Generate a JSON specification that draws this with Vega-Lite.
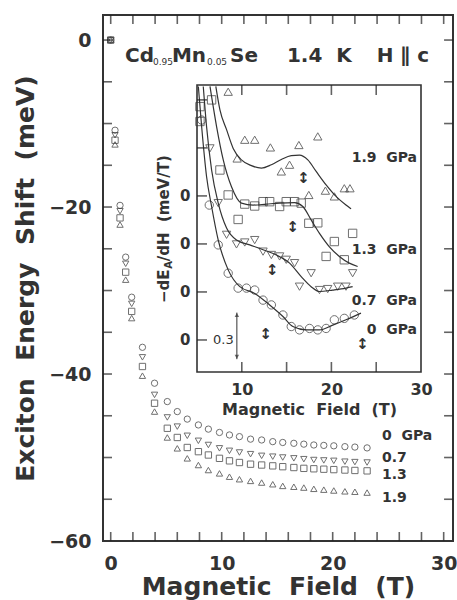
{
  "$schema": "https://vega.github.io/schema/vega-lite/v6.json",
  "width": 350,
  "height": 526,
  "autosize": {"type": "none"},
  "padding": {"left": 103, "top": 15, "right": 4, "bottom": 59},
  "background": "white",
  "config": {
    "view": {"stroke": "#333", "strokeWidth": 2},
    "axis": {"labelFont": "DejaVu Sans", "labelFontWeight": "bold", "labelColor": "#333", "titleFont": "DejaVu Sans", "titleFontWeight": "bold", "titleColor": "#333", "ticks": false, "domain": false, "grid": false, "labelFlush": false, "labelOverlap": false},
    "text": {"font": "DejaVu Sans", "fontWeight": "bold", "fill": "#333"}
  },
  "data": {"values": [{}]},
  "datasets": {
    "xt": [{"v": 0}, {"v": 2}, {"v": 4}, {"v": 6}, {"v": 8}, {"v": 10}, {"v": 12}, {"v": 14}, {"v": 16}, {"v": 18}, {"v": 20}, {"v": 22}, {"v": 24}, {"v": 26}, {"v": 28}, {"v": 30}],
    "yt": [{"v": -55}, {"v": -50}, {"v": -45}, {"v": -40}, {"v": -35}, {"v": -30}, {"v": -25}, {"v": -20}, {"v": -15}, {"v": -10}, {"v": -5}, {"v": 0}],
    "ixt": [{"v": 10}, {"v": 15}, {"v": 20}, {"v": 25}],
    "iyt": [{"v": 0}, {"v": 1}, {"v": 2}, {"v": 3}, {"v": 4}, {"v": 5}],
    "main": [
      {"field": 0, "shift": 0, "p": "0"}, {"field": 0.39, "shift": -10.8, "p": "0"}, {"field": 0.84, "shift": -19.8, "p": "0"}, {"field": 1.35, "shift": -26.0, "p": "0"}, {"field": 1.89, "shift": -30.8, "p": "0"}, {"field": 2.86, "shift": -36.8, "p": "0"}, {"field": 3.95, "shift": -41.1, "p": "0"}, {"field": 5.1, "shift": -43.3, "p": "0"}, {"field": 6.0, "shift": -44.5, "p": "0"}, {"field": 6.9, "shift": -45.4, "p": "0"}, {"field": 7.9, "shift": -46.1, "p": "0"}, {"field": 8.8, "shift": -46.6, "p": "0"}, {"field": 9.8, "shift": -47.0, "p": "0"}, {"field": 10.7, "shift": -47.3, "p": "0"}, {"field": 11.6, "shift": -47.5, "p": "0"}, {"field": 12.6, "shift": -47.8, "p": "0"}, {"field": 13.6, "shift": -47.9, "p": "0"}, {"field": 14.6, "shift": -48.1, "p": "0"}, {"field": 15.5, "shift": -48.2, "p": "0"}, {"field": 16.5, "shift": -48.3, "p": "0"}, {"field": 17.4, "shift": -48.4, "p": "0"}, {"field": 18.3, "shift": -48.5, "p": "0"}, {"field": 19.2, "shift": -48.55, "p": "0"}, {"field": 20.1, "shift": -48.6, "p": "0"}, {"field": 21.1, "shift": -48.7, "p": "0"}, {"field": 22.0, "shift": -48.75, "p": "0"}, {"field": 23.1, "shift": -48.85, "p": "0"},
      {"field": 0, "shift": 0, "p": "0.7"}, {"field": 0.39, "shift": -11.4, "p": "0.7"}, {"field": 0.84, "shift": -20.5, "p": "0.7"}, {"field": 1.35, "shift": -26.8, "p": "0.7"}, {"field": 1.89, "shift": -31.6, "p": "0.7"}, {"field": 2.86, "shift": -38.0, "p": "0.7"}, {"field": 3.95, "shift": -42.5, "p": "0.7"}, {"field": 5.1, "shift": -45.2, "p": "0.7"}, {"field": 6.0, "shift": -46.3, "p": "0.7"}, {"field": 6.9, "shift": -47.4, "p": "0.7"}, {"field": 7.9, "shift": -48.0, "p": "0.7"}, {"field": 8.8, "shift": -48.5, "p": "0.7"}, {"field": 9.8, "shift": -48.9, "p": "0.7"}, {"field": 10.7, "shift": -49.2, "p": "0.7"}, {"field": 11.6, "shift": -49.4, "p": "0.7"}, {"field": 12.6, "shift": -49.6, "p": "0.7"}, {"field": 13.6, "shift": -49.8, "p": "0.7"}, {"field": 14.6, "shift": -49.9, "p": "0.7"}, {"field": 15.5, "shift": -50.0, "p": "0.7"}, {"field": 16.5, "shift": -50.1, "p": "0.7"}, {"field": 17.4, "shift": -50.2, "p": "0.7"}, {"field": 18.3, "shift": -50.3, "p": "0.7"}, {"field": 19.2, "shift": -50.35, "p": "0.7"}, {"field": 20.1, "shift": -50.4, "p": "0.7"}, {"field": 21.1, "shift": -50.5, "p": "0.7"}, {"field": 22.0, "shift": -50.55, "p": "0.7"}, {"field": 23.1, "shift": -50.6, "p": "0.7"},
      {"field": 0, "shift": 0, "p": "1.3"}, {"field": 0.39, "shift": -12.0, "p": "1.3"}, {"field": 0.84, "shift": -21.3, "p": "1.3"}, {"field": 1.35, "shift": -27.8, "p": "1.3"}, {"field": 1.89, "shift": -32.5, "p": "1.3"}, {"field": 2.86, "shift": -39.1, "p": "1.3"}, {"field": 3.95, "shift": -43.5, "p": "1.3"}, {"field": 5.1, "shift": -46.5, "p": "1.3"}, {"field": 6.0, "shift": -47.6, "p": "1.3"}, {"field": 6.9, "shift": -48.8, "p": "1.3"}, {"field": 7.9, "shift": -49.3, "p": "1.3"}, {"field": 8.8, "shift": -49.7, "p": "1.3"}, {"field": 9.8, "shift": -50.1, "p": "1.3"}, {"field": 10.7, "shift": -50.4, "p": "1.3"}, {"field": 11.6, "shift": -50.6, "p": "1.3"}, {"field": 12.6, "shift": -50.8, "p": "1.3"}, {"field": 13.6, "shift": -50.9, "p": "1.3"}, {"field": 14.6, "shift": -51.0, "p": "1.3"}, {"field": 15.5, "shift": -51.1, "p": "1.3"}, {"field": 16.5, "shift": -51.2, "p": "1.3"}, {"field": 17.4, "shift": -51.3, "p": "1.3"}, {"field": 18.3, "shift": -51.35, "p": "1.3"}, {"field": 19.2, "shift": -51.4, "p": "1.3"}, {"field": 20.1, "shift": -51.45, "p": "1.3"}, {"field": 21.1, "shift": -51.5, "p": "1.3"}, {"field": 22.0, "shift": -51.55, "p": "1.3"}, {"field": 23.1, "shift": -51.6, "p": "1.3"},
      {"field": 0, "shift": 0, "p": "1.9"}, {"field": 0.39, "shift": -12.5, "p": "1.9"}, {"field": 0.84, "shift": -22.1, "p": "1.9"}, {"field": 1.35, "shift": -28.7, "p": "1.9"}, {"field": 1.89, "shift": -33.3, "p": "1.9"}, {"field": 2.86, "shift": -40.2, "p": "1.9"}, {"field": 3.95, "shift": -44.5, "p": "1.9"}, {"field": 5.1, "shift": -47.6, "p": "1.9"}, {"field": 6.0, "shift": -48.9, "p": "1.9"}, {"field": 6.9, "shift": -50.1, "p": "1.9"}, {"field": 7.9, "shift": -50.9, "p": "1.9"}, {"field": 8.8, "shift": -51.5, "p": "1.9"}, {"field": 9.8, "shift": -51.9, "p": "1.9"}, {"field": 10.7, "shift": -52.3, "p": "1.9"}, {"field": 11.6, "shift": -52.6, "p": "1.9"}, {"field": 12.6, "shift": -52.8, "p": "1.9"}, {"field": 13.6, "shift": -53.0, "p": "1.9"}, {"field": 14.6, "shift": -53.2, "p": "1.9"}, {"field": 15.5, "shift": -53.4, "p": "1.9"}, {"field": 16.5, "shift": -53.5, "p": "1.9"}, {"field": 17.4, "shift": -53.6, "p": "1.9"}, {"field": 18.3, "shift": -53.75, "p": "1.9"}, {"field": 19.2, "shift": -53.85, "p": "1.9"}, {"field": 20.1, "shift": -53.95, "p": "1.9"}, {"field": 21.1, "shift": -54.05, "p": "1.9"}, {"field": 22.0, "shift": -54.1, "p": "1.9"}, {"field": 23.1, "shift": -54.2, "p": "1.9"}
    ],
    "inset": [
      {"field": 8.48, "value": 5.17, "p": "1.9"}, {"field": 9.48, "value": 3.78, "p": "1.9"}, {"field": 10.33, "value": 4.17, "p": "1.9"}, {"field": 11.44, "value": 4.17, "p": "1.9"}, {"field": 13.19, "value": 4.01, "p": "1.9"}, {"field": 14.41, "value": 3.51, "p": "1.9"}, {"field": 15.33, "value": 3.65, "p": "1.9"}, {"field": 16.37, "value": 4.06, "p": "1.9"}, {"field": 17.48, "value": 3.02, "p": "1.9"}, {"field": 18.48, "value": 4.24, "p": "1.9"}, {"field": 19.33, "value": 3.11, "p": "1.9"}, {"field": 20.33, "value": 2.99, "p": "1.9"}, {"field": 21.44, "value": 3.16, "p": "1.9"}, {"field": 22.07, "value": 3.16, "p": "1.9"},
      {"field": 5.33, "value": 4.86, "p": "1.3"}, {"field": 5.33, "value": 4.55, "p": "1.3"}, {"field": 6.63, "value": 5.0, "p": "1.3"}, {"field": 7.56, "value": 3.54, "p": "1.3"}, {"field": 8.48, "value": 3.02, "p": "1.3"}, {"field": 9.59, "value": 2.51, "p": "1.3"}, {"field": 10.33, "value": 2.83, "p": "1.3"}, {"field": 11.44, "value": 2.79, "p": "1.3"}, {"field": 12.37, "value": 2.88, "p": "1.3"}, {"field": 13.11, "value": 2.88, "p": "1.3"}, {"field": 14.22, "value": 2.78, "p": "1.3"}, {"field": 14.96, "value": 2.88, "p": "1.3"}, {"field": 15.89, "value": 2.88, "p": "1.3"}, {"field": 16.63, "value": 2.85, "p": "1.3"}, {"field": 17.48, "value": 2.43, "p": "1.3"}, {"field": 18.48, "value": 2.44, "p": "1.3"}, {"field": 19.41, "value": 1.74, "p": "1.3"}, {"field": 20.33, "value": 2.05, "p": "1.3"}, {"field": 21.44, "value": 1.67, "p": "1.3"}, {"field": 22.37, "value": 2.22, "p": "1.3"},
      {"field": 6.44, "value": 3.99, "p": "0.7"}, {"field": 7.37, "value": 2.85, "p": "0.7"}, {"field": 8.3, "value": 2.19, "p": "0.7"}, {"field": 9.41, "value": 1.99, "p": "0.7"}, {"field": 10.33, "value": 2.03, "p": "0.7"}, {"field": 11.44, "value": 2.08, "p": "0.7"}, {"field": 12.37, "value": 1.84, "p": "0.7"}, {"field": 13.3, "value": 1.77, "p": "0.7"}, {"field": 14.22, "value": 1.74, "p": "0.7"}, {"field": 14.96, "value": 1.67, "p": "0.7"}, {"field": 15.89, "value": 1.6, "p": "0.7"}, {"field": 16.44, "value": 1.11, "p": "0.7"}, {"field": 17.74, "value": 1.39, "p": "0.7"}, {"field": 18.67, "value": 1.04, "p": "0.7"}, {"field": 19.59, "value": 1.06, "p": "0.7"}, {"field": 20.7, "value": 1.11, "p": "0.7"}, {"field": 21.63, "value": 1.11, "p": "0.7"}, {"field": 22.37, "value": 1.39, "p": "0.7"},
      {"field": 5.52, "value": 4.58, "p": "0"}, {"field": 6.37, "value": 2.81, "p": "0"}, {"field": 7.37, "value": 1.98, "p": "0"}, {"field": 8.48, "value": 1.39, "p": "0"}, {"field": 9.59, "value": 1.08, "p": "0"}, {"field": 10.52, "value": 1.08, "p": "0"}, {"field": 11.44, "value": 1.04, "p": "0"}, {"field": 12.37, "value": 0.83, "p": "0"}, {"field": 13.3, "value": 0.73, "p": "0"}, {"field": 14.59, "value": 0.52, "p": "0"}, {"field": 15.52, "value": 0.28, "p": "0"}, {"field": 16.44, "value": 0.21, "p": "0"}, {"field": 17.56, "value": 0.24, "p": "0"}, {"field": 18.48, "value": 0.21, "p": "0"}, {"field": 19.41, "value": 0.24, "p": "0"}, {"field": 20.33, "value": 0.42, "p": "0"}, {"field": 21.44, "value": 0.45, "p": "0"}, {"field": 22.56, "value": 0.52, "p": "0"}
    ],
    "curve": [
      {"field": 7.1, "value": 5.28, "p": "1.9"}, {"field": 7.56, "value": 4.79, "p": "1.9"}, {"field": 8.3, "value": 4.38, "p": "1.9"}, {"field": 9.04, "value": 3.99, "p": "1.9"}, {"field": 9.96, "value": 3.75, "p": "1.9"}, {"field": 11.07, "value": 3.63, "p": "1.9"}, {"field": 12.19, "value": 3.58, "p": "1.9"}, {"field": 13.3, "value": 3.65, "p": "1.9"}, {"field": 14.41, "value": 3.76, "p": "1.9"}, {"field": 15.52, "value": 3.84, "p": "1.9"}, {"field": 16.44, "value": 3.85, "p": "1.9"}, {"field": 17.37, "value": 3.75, "p": "1.9"}, {"field": 18.3, "value": 3.51, "p": "1.9"}, {"field": 19.41, "value": 3.23, "p": "1.9"}, {"field": 20.52, "value": 2.99, "p": "1.9"}, {"field": 21.63, "value": 2.81, "p": "1.9"}, {"field": 22.19, "value": 2.73, "p": "1.9"},
      {"field": 6.45, "value": 5.28, "p": "1.3"}, {"field": 7.19, "value": 4.44, "p": "1.3"}, {"field": 7.93, "value": 3.75, "p": "1.3"}, {"field": 8.85, "value": 3.19, "p": "1.3"}, {"field": 9.96, "value": 2.85, "p": "1.3"}, {"field": 11.26, "value": 2.81, "p": "1.3"}, {"field": 12.74, "value": 2.83, "p": "1.3"}, {"field": 14.22, "value": 2.85, "p": "1.3"}, {"field": 15.89, "value": 2.86, "p": "1.3"}, {"field": 16.81, "value": 2.78, "p": "1.3"}, {"field": 17.74, "value": 2.5, "p": "1.3"}, {"field": 18.67, "value": 2.22, "p": "1.3"}, {"field": 19.78, "value": 1.94, "p": "1.3"}, {"field": 20.89, "value": 1.74, "p": "1.3"}, {"field": 22.0, "value": 1.6, "p": "1.3"}, {"field": 22.93, "value": 1.53, "p": "1.3"},
      {"field": 5.7, "value": 5.28, "p": "0.7"}, {"field": 6.07, "value": 4.44, "p": "0.7"}, {"field": 6.63, "value": 3.54, "p": "0.7"}, {"field": 7.37, "value": 2.85, "p": "0.7"}, {"field": 8.3, "value": 2.33, "p": "0.7"}, {"field": 9.41, "value": 2.08, "p": "0.7"}, {"field": 10.89, "value": 1.98, "p": "0.7"}, {"field": 12.37, "value": 1.88, "p": "0.7"}, {"field": 13.85, "value": 1.77, "p": "0.7"}, {"field": 15.33, "value": 1.6, "p": "0.7"}, {"field": 16.63, "value": 1.32, "p": "0.7"}, {"field": 17.74, "value": 1.11, "p": "0.7"}, {"field": 18.67, "value": 1.01, "p": "0.7"}, {"field": 20.15, "value": 1.04, "p": "0.7"}, {"field": 21.63, "value": 1.08, "p": "0.7"}, {"field": 22.37, "value": 1.11, "p": "0.7"},
      {"field": 5.15, "value": 5.28, "p": "0"}, {"field": 5.52, "value": 4.44, "p": "0"}, {"field": 6.07, "value": 3.4, "p": "0"}, {"field": 6.63, "value": 2.78, "p": "0"}, {"field": 7.37, "value": 2.08, "p": "0"}, {"field": 8.48, "value": 1.46, "p": "0"}, {"field": 9.78, "value": 1.11, "p": "0"}, {"field": 11.44, "value": 0.97, "p": "0"}, {"field": 13.11, "value": 0.73, "p": "0"}, {"field": 14.59, "value": 0.49, "p": "0"}, {"field": 15.7, "value": 0.28, "p": "0"}, {"field": 17.19, "value": 0.21, "p": "0"}, {"field": 18.67, "value": 0.21, "p": "0"}, {"field": 20.15, "value": 0.31, "p": "0"}, {"field": 21.63, "value": 0.42, "p": "0"}, {"field": 23.3, "value": 0.56, "p": "0"}
    ],
    "arrows": [
      {"field": 16.89, "value": 3.37}, {"field": 15.7, "value": 2.36}, {"field": 13.41, "value": 1.46}, {"field": 12.67, "value": 0.125}, {"field": 23.48, "value": -0.08}
    ]
  },
  "layer": [
    {
      "layer": [
        {
          "data": {"name": "main"},
          "mark": {"type": "point", "filled": false, "size": 40, "strokeWidth": 1, "color": "#333"},
          "encoding": {
            "x": {"field": "field", "type": "quantitative", "scale": {"domain": [-0.694, 30.84], "nice": false, "zero": false},
              "axis": {"orient": "bottom", "values": [0, 10, 20, 30], "labelPadding": 13, "labelFontSize": 19, "title": "Magnetic\u00a0\u00a0Field\u00a0\u00a0(T)", "titleFontSize": 25, "titlePadding": 1}},
            "y": {"field": "shift", "type": "quantitative", "scale": {"domain": [-60, 3], "nice": false, "zero": false},
              "axis": {"orient": "left", "values": [-60, -40, -20, 0], "labelPadding": 12, "labelFontSize": 19, "title": "Exciton\u00a0\u00a0Energy\u00a0\u00a0Shift\u00a0\u00a0(meV)", "titleFontSize": 25, "titlePadding": 10}},
            "shape": {"field": "p", "type": "nominal", "scale": {"domain": ["0", "0.7", "1.3", "1.9"], "range": ["circle", "triangle-down", "square", "triangle-up"]}, "legend": null}
          }
        },
        {"data": {"name": "xt"}, "mark": {"type": "point", "shape": "M0,-1L0,1", "size": 81, "strokeWidth": 1.6, "color": "#222", "filled": false}, "encoding": {"x": {"field": "v", "type": "quantitative", "axis": null}, "y": {"datum": -59.46, "axis": null}}},
        {"data": {"name": "xt"}, "mark": {"type": "point", "shape": "M0,-1L0,1", "size": 81, "strokeWidth": 1.6, "color": "#222", "filled": false}, "encoding": {"x": {"field": "v", "type": "quantitative", "axis": null}, "y": {"datum": 2.46, "axis": null}}},
        {"data": {"name": "yt"}, "mark": {"type": "point", "shape": "M-1,0L1,0", "size": 81, "strokeWidth": 1.6, "color": "#222", "filled": false}, "encoding": {"y": {"field": "v", "type": "quantitative", "axis": null}, "x": {"datum": -0.29, "axis": null}}},
        {"data": {"name": "yt"}, "mark": {"type": "point", "shape": "M-1,0L1,0", "size": 81, "strokeWidth": 1.6, "color": "#222", "filled": false}, "encoding": {"y": {"field": "v", "type": "quantitative", "axis": null}, "x": {"datum": 30.44, "axis": null}}},
        {"mark": {"type": "text", "text": "Cd", "fontSize": 20, "align": "left", "baseline": "alphabetic"}, "encoding": {"x": {"datum": 1.29, "axis": null}, "y": {"datum": -2.6, "axis": null}}},
        {"mark": {"type": "text", "text": "0.95", "fontSize": 9, "fontWeight": "normal", "align": "left", "baseline": "alphabetic"}, "encoding": {"x": {"datum": 3.81, "axis": null}, "y": {"datum": -2.95, "axis": null}}},
        {"mark": {"type": "text", "text": "Mn", "fontSize": 20, "align": "left", "baseline": "alphabetic"}, "encoding": {"x": {"datum": 5.52, "axis": null}, "y": {"datum": -2.6, "axis": null}}},
        {"mark": {"type": "text", "text": "0.05", "fontSize": 9, "fontWeight": "normal", "align": "left", "baseline": "alphabetic"}, "encoding": {"x": {"datum": 8.68, "axis": null}, "y": {"datum": -2.95, "axis": null}}},
        {"mark": {"type": "text", "text": "Se", "fontSize": 20, "align": "left", "baseline": "alphabetic"}, "encoding": {"x": {"datum": 10.75, "axis": null}, "y": {"datum": -2.6, "axis": null}}},
        {"mark": {"type": "text", "text": "1.4\u00a0\u00a0K", "fontSize": 20, "align": "left", "baseline": "alphabetic"}, "encoding": {"x": {"datum": 15.88, "axis": null}, "y": {"datum": -2.6, "axis": null}}},
        {"mark": {"type": "text", "text": "H ∥ c", "fontSize": 20, "align": "left", "baseline": "alphabetic"}, "encoding": {"x": {"datum": 23.96, "axis": null}, "y": {"datum": -2.6, "axis": null}}},
        {"mark": {"type": "text", "text": "0\u00a0\u00a0GPa", "fontSize": 14, "align": "left", "baseline": "middle"}, "encoding": {"x": {"datum": 24.44, "axis": null}, "y": {"datum": -47.4, "axis": null}}},
        {"mark": {"type": "text", "text": "0.7", "fontSize": 14, "align": "left", "baseline": "middle"}, "encoding": {"x": {"datum": 24.44, "axis": null}, "y": {"datum": -50.1, "axis": null}}},
        {"mark": {"type": "text", "text": "1.3", "fontSize": 14, "align": "left", "baseline": "middle"}, "encoding": {"x": {"datum": 24.44, "axis": null}, "y": {"datum": -52.1, "axis": null}}},
        {"mark": {"type": "text", "text": "1.9", "fontSize": 14, "align": "left", "baseline": "middle"}, "encoding": {"x": {"datum": 24.44, "axis": null}, "y": {"datum": -54.8, "axis": null}}},
        {"mark": {"type": "text", "text": "−dE", "fontSize": 15, "angle": 270, "align": "left", "baseline": "middle"}, "encoding": {"x": {"datum": 4.8, "axis": null}, "y": {"datum": -31.5, "axis": null}}},
        {"mark": {"type": "text", "text": "A", "fontSize": 10, "angle": 270, "align": "left", "baseline": "middle"}, "encoding": {"x": {"datum": 5.22, "axis": null}, "y": {"datum": -27.4, "axis": null}}},
        {"mark": {"type": "text", "text": "/dH\u00a0\u00a0(meV/T)", "fontSize": 15, "angle": 270, "align": "left", "baseline": "middle"}, "encoding": {"x": {"datum": 4.8, "axis": null}, "y": {"datum": -26.5, "axis": null}}}
      ],
      "resolve": {"axis": {"x": "independent", "y": "independent"}}
    },
    {
      "layer": [
        {
          "data": {"name": "curve"},
          "mark": {"type": "line", "interpolate": "monotone", "strokeWidth": 1.2, "color": "#333"},
          "encoding": {
            "x": {"field": "field", "type": "quantitative", "scale": {"domain": [5, 30], "range": [94, 318], "nice": false, "zero": false}, "axis": null},
            "y": {"field": "value", "type": "quantitative", "scale": {"domain": [-0.667, 5.31], "range": [357, 70], "nice": false, "zero": false}, "axis": null},
            "detail": {"field": "p", "type": "nominal"}
          }
        },
        {
          "mark": {"type": "rect", "fillOpacity": 0, "stroke": "#333", "strokeWidth": 1.6},
          "encoding": {"x": {"datum": 5, "axis": null}, "x2": {"datum": 30}, "y": {"datum": -0.667, "axis": null}, "y2": {"datum": 5.31}}
        },
        {"data": {"name": "ixt"}, "mark": {"type": "point", "shape": "M0,-1L0,1", "size": 100, "strokeWidth": 1.6, "color": "#222", "filled": false}, "encoding": {"x": {"field": "v", "type": "quantitative", "axis": null}, "y": {"datum": -0.563, "axis": null}}},
        {"data": {"name": "ixt"}, "mark": {"type": "point", "shape": "M0,-1L0,1", "size": 100, "strokeWidth": 1.6, "color": "#222", "filled": false}, "encoding": {"x": {"field": "v", "type": "quantitative", "axis": null}, "y": {"datum": 5.206, "axis": null}}},
        {"data": {"name": "iyt"}, "mark": {"type": "point", "shape": "M-1,0L1,0", "size": 100, "strokeWidth": 1.6, "color": "#222", "filled": false}, "encoding": {"y": {"field": "v", "type": "quantitative", "axis": null}, "x": {"datum": 5.56, "axis": null}}},
        {
          "data": {"name": "inset"},
          "mark": {"type": "point", "filled": false, "size": 70, "strokeWidth": 1, "color": "#333"},
          "encoding": {
            "x": {"field": "field", "type": "quantitative",
              "axis": {"orient": "bottom", "offset": -169, "values": [10, 20, 30], "labelPadding": 9, "labelFontSize": 16, "title": "Magnetic\u00a0\u00a0Field\u00a0\u00a0(T)", "titleFontSize": 16, "titlePadding": 4}},
            "y": {"field": "value", "type": "quantitative",
              "axis": {"orient": "left", "offset": -94, "values": [0, 1, 2, 3], "labelExpr": "'0'", "labelPadding": 7, "labelFontSize": 15, "title": null}},
            "shape": {"field": "p", "type": "nominal", "scale": {"domain": ["0", "0.7", "1.3", "1.9"], "range": ["circle", "triangle-down", "square", "triangle-up"]}, "legend": null}
          }
        },
        {
          "data": {"name": "arrows"},
          "mark": {"type": "text", "text": "↕", "fontSize": 15, "align": "center", "baseline": "middle"},
          "encoding": {"x": {"field": "field", "type": "quantitative", "axis": null}, "y": {"field": "value", "type": "quantitative", "axis": null}}
        },
        {"mark": {"type": "rule", "strokeWidth": 1, "color": "#333"}, "encoding": {"x": {"datum": 9.45, "axis": null}, "y": {"datum": -0.4, "axis": null}, "y2": {"datum": 0.57}}},
        {"mark": {"type": "point", "shape": "triangle-up", "filled": true, "size": 20, "color": "#333"}, "encoding": {"x": {"datum": 9.45, "axis": null}, "y": {"datum": 0.52, "axis": null}}},
        {"mark": {"type": "point", "shape": "triangle-down", "filled": true, "size": 20, "color": "#333"}, "encoding": {"x": {"datum": 9.45, "axis": null}, "y": {"datum": -0.35, "axis": null}}},
        {"mark": {"type": "text", "text": "0.3", "fontSize": 13, "fontWeight": "normal", "align": "right", "baseline": "middle"}, "encoding": {"x": {"datum": 9.1, "axis": null}, "y": {"datum": 0, "axis": null}}},
        {"mark": {"type": "text", "text": "1.9\u00a0\u00a0GPa", "fontSize": 14, "align": "right", "baseline": "middle"}, "encoding": {"x": {"datum": 29.56, "axis": null}, "y": {"datum": 3.79, "axis": null}}},
        {"mark": {"type": "text", "text": "1.3\u00a0\u00a0GPa", "fontSize": 14, "align": "right", "baseline": "middle"}, "encoding": {"x": {"datum": 29.56, "axis": null}, "y": {"datum": 1.875, "axis": null}}},
        {"mark": {"type": "text", "text": "0.7\u00a0\u00a0GPa", "fontSize": 14, "align": "right", "baseline": "middle"}, "encoding": {"x": {"datum": 29.56, "axis": null}, "y": {"datum": 0.82, "axis": null}}},
        {"mark": {"type": "text", "text": "0\u00a0\u00a0GPa", "fontSize": 14, "align": "right", "baseline": "middle"}, "encoding": {"x": {"datum": 29.56, "axis": null}, "y": {"datum": 0.21, "axis": null}}}
      ],
      "resolve": {"axis": {"x": "independent", "y": "independent"}}
    }
  ],
  "resolve": {"scale": {"x": "independent", "y": "independent"}}
}
